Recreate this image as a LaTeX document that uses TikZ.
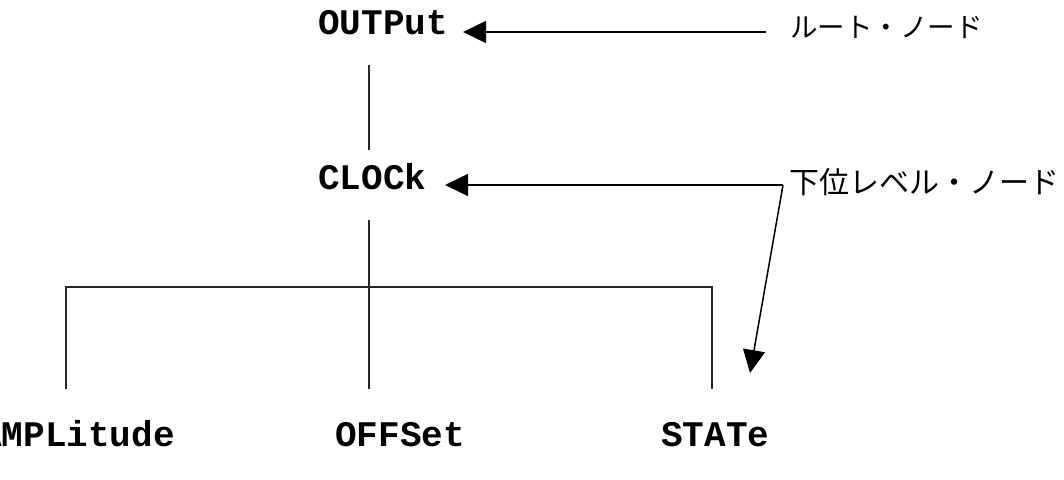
\documentclass[tikz,border=0pt]{standalone}
\usepackage{fontspec}
\setmonofont{Liberation Mono}
\newfontfamily\jpfont{Noto Sans CJK JP}
\usetikzlibrary{arrows.meta}
\begin{document}
\begin{tikzpicture}[x=1pt,y=-1pt,
  cmd/.style={font=\ttfamily\bfseries\fontsize{36}{40}\selectfont, inner sep=0pt, anchor=base west},
  jp/.style={font=\jpfont\fontsize{29}{34}\selectfont, inner sep=0pt, anchor=west},
  tree/.style={line width=1.5pt, draw=black!85},
  callout/.style={line width=1.5pt, -{Triangle[length=23pt,width=22pt]}}]
\useasboundingbox (0,0) rectangle (1064,479);
% command nodes
\node[cmd] (out) at (318,34) {OUTPut};
\node[cmd] (clk) at (318,189) {CLOCk};
\node[cmd] (amp) at (-20,446) {AMPLitude};
\node[cmd] (off) at (335,446) {OFFSet};
\node[cmd] (sta) at (661,446) {STATe};
% labels
\node[jp, font=\jpfont\fontsize{27.5}{32}\selectfont] (root) at (790,27) {ルート・ノード};
\node[jp, font=\jpfont\fontsize{30}{34}\selectfont] (low) at (789,182) {下位レベル・ノード};
% tree coordinates
\coordinate (o1) at (369,65);
\coordinate (o2) at (369,150);
\coordinate (c1) at (369,220);
\coordinate (c2) at (369,389);
\coordinate (hl) at (66,287);
\coordinate (hr) at (712,287);
\coordinate (al) at (66,389);
\coordinate (sr) at (712,389);
\draw[tree] (o1) -- (o2);
\draw[tree] (c1) -- (c2);
\draw[tree] (al) -- (hl) -- (hr) -- (sr);
% callouts
\coordinate (r0) at (766,32);
\coordinate (r1) at (463,32);
\coordinate (k0) at (783,185);
\coordinate (k1) at (445,185);
\coordinate (s1) at (750,373);
\draw[callout] (r0) -- (r1);
\draw[callout] (k0) -- (k1);
\draw[callout] (k0) -- (s1);
\end{tikzpicture}
\end{document}
